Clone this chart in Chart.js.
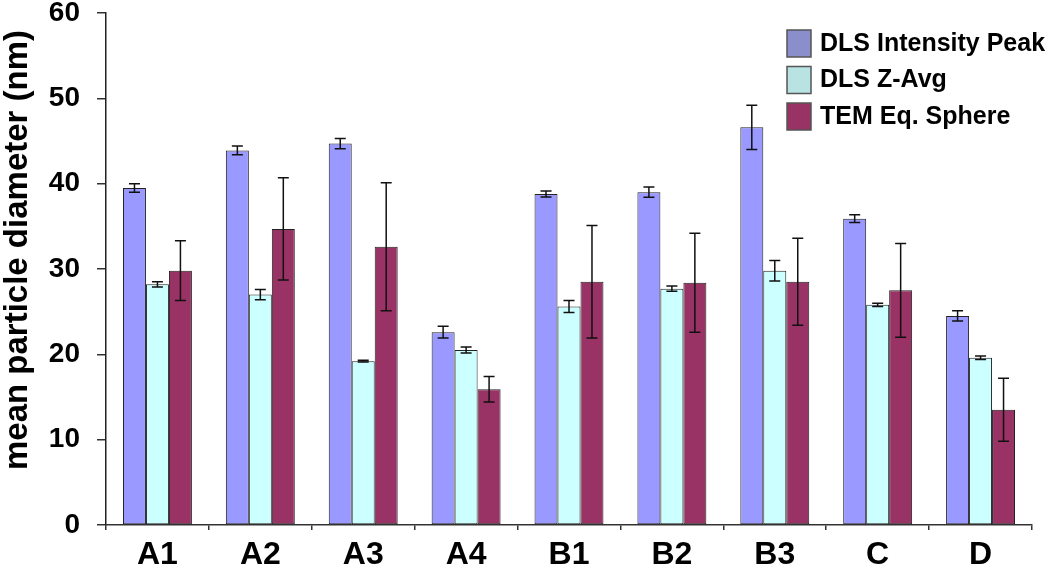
<!DOCTYPE html>
<html lang="en">
<head>
  <meta charset="UTF-8">
  <title>mean particle diameter</title>
  <script src="https://cdn.jsdelivr.net/npm/chart.js"></script>
  <style>
    html, body {
      margin: 0;
      padding: 0;
      background: #fff;
    }
    .wrap {
      width: 1050px;
      height: 571px;
    }
  </style>
</head>
<body>
  <div class="wrap">
    <canvas id="sizeChart" width="1050" height="571"></canvas>
  </div>

  <script>
    // samples
    const samples = ['A1', 'A2', 'A3', 'A4', 'B1', 'B2', 'B3', 'C', 'D'];

    // mean diameters (nm)
    const dlsPeak = [39.5, 43.9, 44.7, 22.6, 38.8, 39.0, 46.6, 35.9, 24.5];
    const dlsZAvg = [28.2, 27.0, 19.2, 20.5, 25.6, 27.7, 29.8, 25.8, 19.6];
    const temSphere = [29.8, 34.7, 32.6, 15.9, 28.5, 28.4, 28.5, 27.5, 13.5];

    // +/- error bar half widths
    const dlsPeakErr = [0.5, 0.5, 0.6, 0.7, 0.35, 0.6, 2.6, 0.45, 0.6];
    const dlsZAvgErr = [0.3, 0.6, 0.1, 0.35, 0.7, 0.3, 1.2, 0.2, 0.2];
    const temSphereErr = [3.5, 6.0, 7.5, 1.5, 6.6, 5.8, 5.1, 5.5, 3.7];

    const yTicks = [0, 10, 20, 30, 40, 50, 60];
    const yTitle = 'mean particle diameter (nm)';

    const seriesNames = ['DLS Intensity Peak', 'DLS Z-Avg', 'TEM Eq. Sphere'];
    const fills = ['#9999FF', '#CCFFFF', '#993366'];
    const legendFills = ['#8A8FCB', '#B9E3E3', '#993366'];
    const errs = [dlsPeakErr, dlsZAvgErr, temSphereErr];

    const FONT = '"Liberation Sans", Arial, sans-serif';

    const errorBars = {
      id: 'errorBars',
      afterDatasetsDraw(chart) {
        const ctx = chart.ctx;
        const y = chart.scales.y;
        ctx.save();
        ctx.strokeStyle = '#111';
        ctx.lineWidth = 1.5;
        chart.data.datasets.forEach((ds, i) => {
          const meta = chart.getDatasetMeta(i);
          meta.data.forEach((bar, j) => {
            const v = ds.data[j];
            const e = errs[i][j];
            const top = y.getPixelForValue(v + e);
            const bot = y.getPixelForValue(v - e);
            ctx.beginPath();
            ctx.moveTo(bar.x, top);
            ctx.lineTo(bar.x, bot);
            ctx.moveTo(bar.x - 5.5, top);
            ctx.lineTo(bar.x + 5.5, top);
            ctx.moveTo(bar.x - 5.5, bot);
            ctx.lineTo(bar.x + 5.5, bot);
            ctx.stroke();
          });
        });
        ctx.restore();
      }
    };

    // legend inside the plot (top right) and the axis title, sitting a bit above centre
    const extras = {
      id: 'extras',
      afterDraw(chart) {
        const ctx = chart.ctx;
        ctx.save();
        ctx.font = 'bold 25px ' + FONT;
        ctx.textBaseline = 'middle';
        ctx.textAlign = 'left';
        seriesNames.forEach((name, i) => {
          const top = 30 + i * 36.5;
          ctx.fillStyle = legendFills[i];
          ctx.fillRect(787, top, 24, 27);
          ctx.strokeStyle = '#555';
          ctx.lineWidth = 1.5;
          ctx.strokeRect(787, top, 24, 27);
          ctx.fillStyle = '#000';
          ctx.fillText(name, 820, top + 14);
        });

        ctx.translate(18, 250);
        ctx.rotate(-Math.PI / 2);
        ctx.textAlign = 'center';
        ctx.font = 'bold 33px ' + FONT;
        ctx.fillText(yTitle, 0, 0);
        ctx.restore();
      }
    };

    const ctx = document.getElementById('sizeChart').getContext('2d');
    new Chart(ctx, {
      type: 'bar',
      data: {
        labels: samples,
        datasets: [
          { label: seriesNames[0], data: dlsPeak, backgroundColor: fills[0] },
          { label: seriesNames[1], data: dlsZAvg, backgroundColor: fills[1] },
          { label: seriesNames[2], data: temSphere, backgroundColor: fills[2] }
        ].map(d => Object.assign(d, {
          borderColor: '#222',
          borderWidth: 1,
          borderSkipped: false,
          categoryPercentage: 0.67,
          barPercentage: 1.0
        }))
      },
      options: {
        responsive: false,
        animation: false,
        layout: { padding: { top: 0, right: 18, left: 0, bottom: 0 } },
        plugins: {
          legend: { display: false },
          tooltip: { enabled: false }
        },
        scales: {
          x: {
            afterFit(scale) {
              scale.height = 46;
              scale.paddingLeft = 0;
              scale.paddingRight = 0;
            },
            border: { display: true, color: '#333', width: 1.5 },
            grid: {
              offset: true,
              drawOnChartArea: false,
              drawTicks: true,
              tickLength: 5,
              color: '#333',
              lineWidth: 1.5
            },
            ticks: {
              color: '#000',
              padding: 9,
              font: { family: FONT, size: 32, weight: 'bold', lineHeight: 1 }
            }
          },
          y: {
            min: 0,
            max: 60,
            afterFit(scale) {
              scale.width = 106;
              scale.paddingTop = 13;
              scale.paddingBottom = 0;
            },
            afterBuildTicks(scale) { scale.ticks = yTicks.map(v => ({ value: v })); },
            border: { display: true, color: '#222', width: 1.5 },
            grid: {
              drawOnChartArea: false,
              drawTicks: true,
              tickLength: 9,
              color: '#333',
              lineWidth: 1.5
            },
            ticks: {
              color: '#000',
              padding: 17,
              font: { family: FONT, size: 28, weight: 'bold', lineHeight: 1 }
            }
          }
        }
      },
      plugins: [errorBars, extras]
    });
  </script>
</body>
</html>
